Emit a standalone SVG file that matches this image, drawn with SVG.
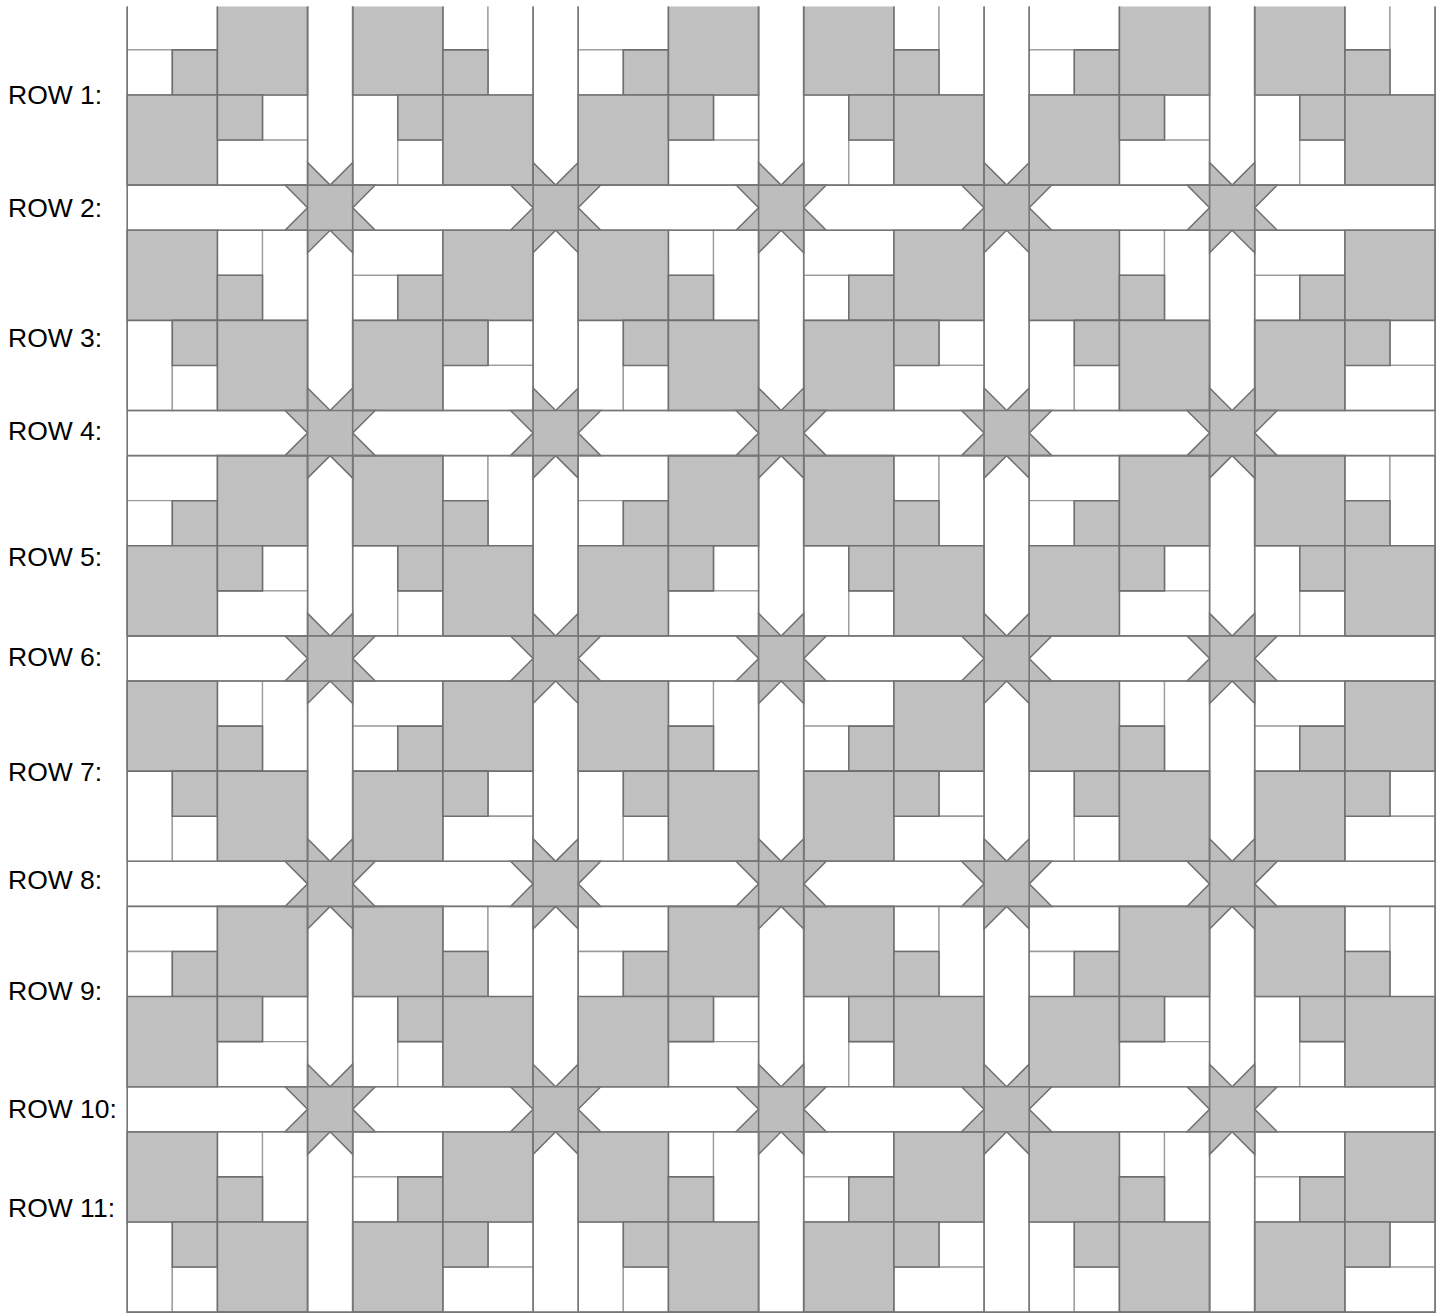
<svg xmlns="http://www.w3.org/2000/svg" xmlns:xlink="http://www.w3.org/1999/xlink" width="1448" height="1314" viewBox="0 0 1448 1314">
<style>
rect, polygon, line { vector-effect: non-scaling-stroke; }
.g { fill: #c0c0c0; stroke: #6f6f6f; stroke-width: 1.6; }
.w { fill: #ffffff; stroke: #9a9a9a; stroke-width: 1.3; }
.st { fill: #bdbdbd; stroke: #707070; stroke-width: 1.5; stroke-linejoin: miter; }
.gl { stroke: #767676; stroke-width: 1.6; fill: none; }
.lbl { font-family: 'Liberation Sans', Arial, sans-serif; font-size: 26.5px; fill: #000000; }
</style>
<defs>
<clipPath id="topclip"><rect x="0" y="6.5" width="1448" height="1310"/></clipPath>
<g id="blockA">
 <rect class="w" x="0" y="0" width="2" height="1"/>
 <rect class="w" x="0" y="1" width="1" height="1"/>
 <rect class="w" x="3" y="2" width="1" height="1"/>
 <rect class="w" x="2" y="3" width="2" height="1"/>
 <rect class="g" x="1" y="1" width="1" height="1"/>
 <rect class="g" x="2" y="0" width="2" height="2"/>
 <rect class="g" x="0" y="2" width="2" height="2"/>
 <rect class="g" x="2" y="2" width="1" height="1"/>
</g>
<g id="blockB">
 <rect class="w" x="2" y="0" width="1" height="1"/>
 <rect class="w" x="3" y="0" width="1" height="2"/>
 <rect class="w" x="0" y="2" width="1" height="2"/>
 <rect class="w" x="1" y="3" width="1" height="1"/>
 <rect class="g" x="0" y="0" width="2" height="2"/>
 <rect class="g" x="2" y="1" width="1" height="1"/>
 <rect class="g" x="1" y="2" width="1" height="1"/>
 <rect class="g" x="2" y="2" width="2" height="2"/>
</g>
<polygon id="star" class="st" points="0,-0.5 0.5,0 1,-0.5 1,0 1.5,0 1,0.5 1.5,1 1,1 1,1.5 0.5,1 0,1.5 0,1 -0.5,1 0,0.5 -0.5,0 0,0"/>
</defs>
<rect x="0" y="0" width="1448" height="1314" fill="#ffffff"/>
<g id="quilt" clip-path="url(#topclip)">
<g transform="translate(127.2,4.8) scale(45.1,45.08)">
 <rect x="0" y="0" width="29" height="29" fill="#ffffff"/>
 <g id="blocks">
  <use href="#blockA" x="0" y="0"/><use href="#blockB" x="5" y="0"/><use href="#blockA" x="10" y="0"/><use href="#blockB" x="15" y="0"/><use href="#blockA" x="20" y="0"/><use href="#blockB" x="25" y="0"/>
  <use href="#blockB" x="0" y="5"/><use href="#blockA" x="5" y="5"/><use href="#blockB" x="10" y="5"/><use href="#blockA" x="15" y="5"/><use href="#blockB" x="20" y="5"/><use href="#blockA" x="25" y="5"/>
  <use href="#blockA" x="0" y="10"/><use href="#blockB" x="5" y="10"/><use href="#blockA" x="10" y="10"/><use href="#blockB" x="15" y="10"/><use href="#blockA" x="20" y="10"/><use href="#blockB" x="25" y="10"/>
  <use href="#blockB" x="0" y="15"/><use href="#blockA" x="5" y="15"/><use href="#blockB" x="10" y="15"/><use href="#blockA" x="15" y="15"/><use href="#blockB" x="20" y="15"/><use href="#blockA" x="25" y="15"/>
  <use href="#blockA" x="0" y="20"/><use href="#blockB" x="5" y="20"/><use href="#blockA" x="10" y="20"/><use href="#blockB" x="15" y="20"/><use href="#blockA" x="20" y="20"/><use href="#blockB" x="25" y="20"/>
  <use href="#blockB" x="0" y="25"/><use href="#blockA" x="5" y="25"/><use href="#blockB" x="10" y="25"/><use href="#blockA" x="15" y="25"/><use href="#blockB" x="20" y="25"/><use href="#blockA" x="25" y="25"/>
 </g>
 <g id="stars">
  <use href="#star" x="4" y="4"/><use href="#star" x="9" y="4"/><use href="#star" x="14" y="4"/><use href="#star" x="19" y="4"/><use href="#star" x="24" y="4"/>
  <use href="#star" x="4" y="9"/><use href="#star" x="9" y="9"/><use href="#star" x="14" y="9"/><use href="#star" x="19" y="9"/><use href="#star" x="24" y="9"/>
  <use href="#star" x="4" y="14"/><use href="#star" x="9" y="14"/><use href="#star" x="14" y="14"/><use href="#star" x="19" y="14"/><use href="#star" x="24" y="14"/>
  <use href="#star" x="4" y="19"/><use href="#star" x="9" y="19"/><use href="#star" x="14" y="19"/><use href="#star" x="19" y="19"/><use href="#star" x="24" y="19"/>
  <use href="#star" x="4" y="24"/><use href="#star" x="9" y="24"/><use href="#star" x="14" y="24"/><use href="#star" x="19" y="24"/><use href="#star" x="24" y="24"/>
 </g>
 <g id="sashing-lines" class="gl">
  <line x1="4" y1="0" x2="4" y2="29"/><line x1="5" y1="0" x2="5" y2="29"/>
  <line x1="9" y1="0" x2="9" y2="29"/><line x1="10" y1="0" x2="10" y2="29"/>
  <line x1="14" y1="0" x2="14" y2="29"/><line x1="15" y1="0" x2="15" y2="29"/>
  <line x1="19" y1="0" x2="19" y2="29"/><line x1="20" y1="0" x2="20" y2="29"/>
  <line x1="24" y1="0" x2="24" y2="29"/><line x1="25" y1="0" x2="25" y2="29"/>
  <line x1="0" y1="4" x2="29" y2="4"/><line x1="0" y1="5" x2="29" y2="5"/>
  <line x1="0" y1="9" x2="29" y2="9"/><line x1="0" y1="10" x2="29" y2="10"/>
  <line x1="0" y1="14" x2="29" y2="14"/><line x1="0" y1="15" x2="29" y2="15"/>
  <line x1="0" y1="19" x2="29" y2="19"/><line x1="0" y1="20" x2="29" y2="20"/>
  <line x1="0" y1="24" x2="29" y2="24"/><line x1="0" y1="25" x2="29" y2="25"/>
  <rect x="0" y="0" width="29" height="29"/>
 </g>
</g>
</g>
<g id="labels" class="lbl">
 <text x="8" y="104.3">ROW 1:</text>
 <text x="8" y="216.7">ROW 2:</text>
 <text x="8" y="347.3">ROW 3:</text>
 <text x="8" y="440">ROW 4:</text>
 <text x="8" y="566">ROW 5:</text>
 <text x="8" y="665.7">ROW 6:</text>
 <text x="8" y="780.7">ROW 7:</text>
 <text x="8" y="889">ROW 8:</text>
 <text x="8" y="1000">ROW 9:</text>
 <text x="8" y="1118.3">ROW 10:</text>
 <text x="8" y="1216.7">ROW 11:</text>
</g>
</svg>
